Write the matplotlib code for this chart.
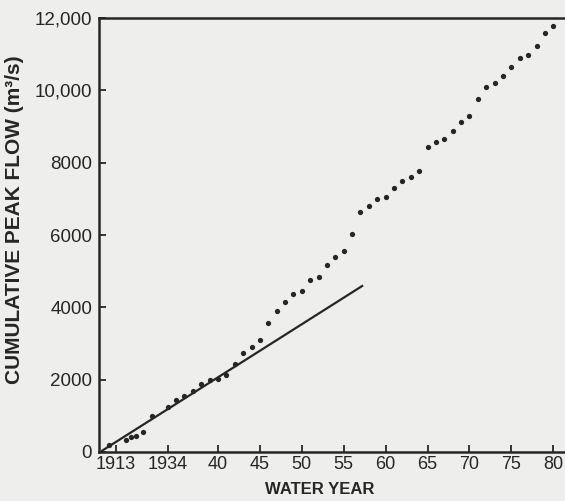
import numpy as np
import matplotlib
matplotlib.use("Agg")
import matplotlib.pyplot as plt

## data
# x positions are in "axis years": the axis is broken, so the 1913 label
# sits where 1927.8 would be and the early points are squeezed in front of 1934
early_pos = [1927.0, 1929.0, 1929.6, 1930.2, 1931.0, 1932.1]
early_flow = [190, 330, 420, 440, 550, 1000]

years = list(range(1934, 1981))
cum_flow = [1240, 1440, 1550, 1700, 1880, 1990, 2020, 2130, 2430, 2750,
            2900, 3100, 3580, 3900, 4160, 4360, 4460, 4760, 4850, 5170,
            5380, 5570, 6030, 6630, 6810, 6990, 7050, 7300, 7490, 7610,
            7770, 8440, 8560, 8650, 8880, 9120, 9290, 9760, 10100, 10190,
            10400, 10640, 10900, 10980, 11230, 11580, 11790]

# fitted line for the early record
line_pos = [1926.2, 1957.2]
line_flow = [40, 4590]

tick_pos = [1927.8, 1934, 1940, 1945, 1950, 1955, 1960, 1965, 1970, 1975, 1980]
tick_labels = ['1913', '1934', '40', '45', '50', '55', '60', '65', '70', '75', '80']
ytick_vals = [0, 2000, 4000, 6000, 8000, 10000, 12000]
ytick_labels = ['0', '2000', '4000', '6000', '8000', '10,000', '12,000']

ink = '#262626'
paper = '#eeeeec'

fig = plt.figure(figsize=(5.65, 5.01), dpi=100, facecolor=paper)
ax = fig.add_axes([99/565, 49/501, 1 - 99/565, (452 - 18)/501])
ax.set_facecolor(paper)

ax.plot(early_pos + years, early_flow + cum_flow, 'o', color=ink,
        markersize=3.8, markeredgewidth=0, clip_on=False)
ax.plot(line_pos, line_flow, '-', color=ink, linewidth=1.6)

ax.set_xlim(1925.8, 1981.4)
ax.set_ylim(0, 12000)

for side in ['left', 'bottom', 'top']:
    ax.spines[side].set_linewidth(1.8)
    ax.spines[side].set_color(ink)
ax.spines['right'].set_visible(False)

ax.set_xticks(tick_pos)
ax.set_xticklabels(tick_labels, family='Liberation Sans', fontsize=13, color=ink)
ax.set_yticks(ytick_vals)
ax.set_yticklabels(ytick_labels, family='Liberation Sans', fontsize=13.5, color=ink)
ax.tick_params(direction='in', length=5, width=1.3, color=ink)
ax.tick_params(axis='x', pad=3)
ax.tick_params(axis='y', pad=5)

fig.text(320/565, 1 - 490/501, 'WATER YEAR', ha='center', va='center',
         family='Liberation Sans', fontweight='bold', fontsize=12, color=ink)
fig.text(15/565, 1 - 220/501, 'CUMULATIVE PEAK FLOW (m³/s)', ha='center', va='center',
         rotation=90, family='Liberation Sans', fontweight='bold', fontsize=15, color=ink)

fig.savefig('out.png', dpi=100, facecolor=paper)
